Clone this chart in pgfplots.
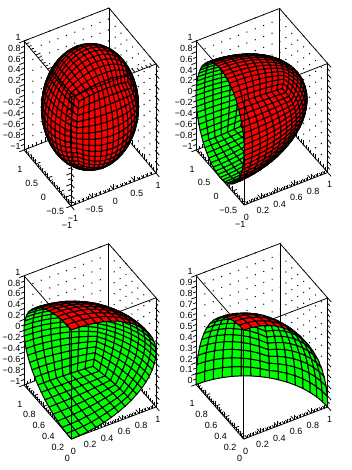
\documentclass[border=0pt]{standalone}
\usepackage{fontspec}
\setmainfont{Liberation Sans}
\usepackage{pgfplots}
\usepackage{pgfplotstable}
\pgfplotsset{compat=1.18}
\pgfplotstableread{
pa pb pc na nb nc
0 0 1 0 0 -1
0 .131 .991 0 -.131 -.991
0 .259 .966 0 -.259 -.966
0 .383 .924 0 -.383 -.924
0 .500 .866 0 -.500 -.866
0 .609 .793 0 -.609 -.793
0 .707 .707 0 -.707 -.707
.131 0 .991 -.131 0 -.991
.129 .129 .983 -.129 -.129 -.983
.126 .257 .958 -.126 -.257 -.958
.121 .380 .917 -.121 -.380 -.917
.113 .497 .860 -.113 -.497 -.860
.104 .605 .789 -.104 -.605 -.789
.093 .704 .704 -.093 -.704 -.704
.259 0 .966 -.259 0 -.966
.257 .126 .958 -.257 -.126 -.958
.251 .251 .935 -.251 -.251 -.935
.240 .371 .897 -.240 -.371 -.897
.226 .487 .844 -.226 -.487 -.844
.208 .595 .776 -.208 -.595 -.776
.186 .695 .695 -.186 -.695 -.695
.383 0 .924 -.383 0 -.924
.380 .121 .917 -.380 -.121 -.917
.371 .240 .897 -.371 -.240 -.897
.357 .357 .863 -.357 -.357 -.863
.338 .471 .815 -.338 -.471 -.815
.312 .578 .754 -.312 -.578 -.754
.281 .679 .679 -.281 -.679 -.679
.500 0 .866 -.500 0 -.866
.497 .113 .860 -.497 -.113 -.860
.487 .226 .844 -.487 -.226 -.844
.471 .338 .815 -.471 -.338 -.815
.447 .447 .775 -.447 -.447 -.775
.416 .553 .721 -.416 -.553 -.721
.378 .655 .655 -.378 -.655 -.655
.609 0 .793 -.609 0 -.793
.605 .104 .789 -.605 -.104 -.789
.595 .208 .776 -.595 -.208 -.776
.578 .312 .754 -.578 -.312 -.754
.553 .416 .721 -.553 -.416 -.721
.520 .520 .678 -.520 -.520 -.678
.477 .622 .622 -.477 -.622 -.622
.707 0 .707 -.707 0 -.707
.704 .093 .704 -.704 -.093 -.704
.695 .186 .695 -.695 -.186 -.695
.679 .281 .679 -.679 -.281 -.679
.655 .378 .655 -.655 -.378 -.655
.622 .477 .622 -.622 -.477 -.622
.577 .577 .577 -.577 -.577 -.577
}\capt
\pgfplotstableread{
pa pb pc na nb nc
0 0 1 0 0 -1
0 .098 .995 0 -.098 -.995
0 .195 .981 0 -.195 -.981
0 .290 .957 0 -.290 -.957
0 .383 .924 0 -.383 -.924
0 .471 .882 0 -.471 -.882
0 .556 .831 0 -.556 -.831
0 .634 .773 0 -.634 -.773
0 .707 .707 0 -.707 -.707
.098 0 .995 -.098 0 -.995
.098 .098 .990 -.098 -.098 -.990
.096 .194 .976 -.096 -.194 -.976
.094 .289 .953 -.094 -.289 -.953
.091 .381 .920 -.091 -.381 -.920
.087 .470 .879 -.087 -.470 -.879
.082 .554 .829 -.082 -.554 -.829
.076 .633 .771 -.076 -.633 -.771
.069 .705 .705 -.069 -.705 -.705
.195 0 .981 -.195 0 -.981
.194 .096 .976 -.194 -.096 -.976
.191 .191 .963 -.191 -.191 -.963
.187 .285 .940 -.187 -.285 -.940
.181 .376 .909 -.181 -.376 -.909
.173 .464 .869 -.173 -.464 -.869
.163 .548 .820 -.163 -.548 -.820
.152 .627 .764 -.152 -.627 -.764
.139 .700 .700 -.139 -.700 -.700
.290 0 .957 -.290 0 -.957
.289 .094 .953 -.289 -.094 -.953
.285 .187 .940 -.285 -.187 -.940
.279 .279 .919 -.279 -.279 -.919
.270 .368 .890 -.270 -.368 -.890
.258 .455 .852 -.258 -.455 -.852
.245 .539 .806 -.245 -.539 -.806
.228 .618 .753 -.228 -.618 -.753
.210 .691 .691 -.210 -.691 -.691
.383 0 .924 -.383 0 -.924
.381 .091 .920 -.381 -.091 -.920
.376 .181 .909 -.376 -.181 -.909
.368 .270 .890 -.368 -.270 -.890
.357 .357 .863 -.357 -.357 -.863
.343 .443 .828 -.343 -.443 -.828
.326 .525 .786 -.326 -.525 -.786
.305 .604 .736 -.305 -.604 -.736
.281 .679 .679 -.281 -.679 -.679
.471 0 .882 -.471 0 -.882
.470 .087 .879 -.470 -.087 -.879
.464 .173 .869 -.464 -.173 -.869
.455 .258 .852 -.455 -.258 -.852
.443 .343 .828 -.443 -.343 -.828
.426 .426 .798 -.426 -.426 -.798
.408 .506 .760 -.408 -.506 -.760
.382 .586 .714 -.382 -.586 -.714
.354 .661 .661 -.354 -.661 -.661
.556 0 .831 -.556 0 -.831
.554 .082 .829 -.554 -.082 -.829
.548 .163 .820 -.548 -.163 -.820
.539 .245 .806 -.539 -.245 -.806
.525 .326 .786 -.525 -.326 -.786
.506 .408 .760 -.506 -.408 -.760
.486 .486 .727 -.486 -.486 -.727
.459 .564 .687 -.459 -.564 -.687
.427 .639 .639 -.427 -.639 -.639
.634 0 .773 -.634 0 -.773
.633 .076 .771 -.633 -.076 -.771
.627 .152 .764 -.627 -.152 -.764
.618 .228 .753 -.618 -.228 -.753
.604 .305 .736 -.604 -.305 -.736
.586 .382 .714 -.586 -.382 -.714
.564 .459 .687 -.564 -.459 -.687
.536 .536 .653 -.536 -.536 -.653
.502 .612 .612 -.502 -.612 -.612
.707 0 .707 -.707 0 -.707
.705 .069 .705 -.705 -.069 -.705
.700 .139 .700 -.700 -.139 -.700
.691 .210 .691 -.691 -.210 -.691
.679 .281 .679 -.679 -.281 -.679
.661 .354 .661 -.661 -.354 -.661
.639 .427 .639 -.639 -.427 -.639
.612 .502 .612 -.612 -.502 -.612
.577 .577 .577 -.577 -.577 -.577
}\capf
\pgfplotsset{
 colormap={gg}{color=(green) color=(green)},
 colormap={rr}{color=(red) color=(red)},
 sph/.style={surf,shader=faceted,faceted color=black,line width=1pt,
   mesh/check=false,point meta=0,point meta min=-1,point meta max=1,
   unbounded coords=jump},
 gp/.style={sph,colormap name=gg},
 rp/.style={sph,colormap name=rr},
 rf/.style args={#1 #2 #3}{sph,colormap name=rr,
   restrict expr to domain={(#1)*x+(#2)*y+(#3)*z}{0:100}},
 edge/.style={black,line width=.75pt,no marks},
 panel/.style={anchor=origin,axis lines=box,clip=false,
   axis line style={line width=.75pt},tick style={black,line width=.75pt},
   tick align=inside,ztick align=outside,major tick length=5pt,minor tick length=3pt,
   xtick pos=lower,ytick pos=lower,ztick pos=left,
   zmajorgrids,xmajorgrids=false,ymajorgrids=false,
   major grid style={black,line width=1pt,dash pattern=on 1pt off 8pt},
   ticklabel style={font=\fontsize{9}{10}\selectfont,inner sep=0pt},
   xticklabel style={anchor=center,xshift=2pt,yshift=-12pt},
   yticklabel style={anchor=center,xshift=-4pt,yshift=-19pt},
   zticklabel style={anchor=east,xshift=0pt},
   },
}
\newcommand\capp[4]{\addplot3[#1,mesh/rows=7,mesh/cols=7] table[x=#2,y=#3,z=#4]{\capt};}
\newcommand\oct[4]{\capp{#1}{#2a}{#3b}{#4c}\capp{#1}{#2c}{#3a}{#4b}\capp{#1}{#2b}{#3c}{#4a}}
\newcommand\capq[4]{\addplot3[#1,mesh/rows=9,mesh/cols=9] table[x=#2,y=#3,z=#4]{\capf};}
\newcommand\ocf[4]{\capq{#1}{#2a}{#3b}{#4c}\capq{#1}{#2c}{#3a}{#4b}\capq{#1}{#2b}{#3c}{#4a}}
\begin{document}
\begin{tikzpicture}[x=1pt,y=1pt]
\path[use as bounding box] (0,0) rectangle (352,470);
% panel 1
\begin{axis}[panel,3d box=complete,at={(90pt,363pt)},x={(42.5pt,16.5pt)},y={(-23.5pt,28pt)},z={(0pt,54.5pt)},
 xmin=-1,xmax=1,ymin=-1,ymax=1,zmin=-1,zmax=1,
 xtick={-1,-.5,0,.5,1},xticklabels={−1,−0.5,0,0.5,1},minor x tick num=4,
 ytick={-1,-.5,0,.5,1},yticklabels={−1,−0.5,0,0.5,1},minor y tick num=4,
 ztick={-1,-.8,-.6,-.4,-.2,0,.2,.4,.6,.8,1},zticklabels={−1,−0.8,−0.6,−0.4,−0.2,0,0.2,0.4,0.6,0.8,1},minor z tick num=1]
\oct{rp}{p}{p}{p}\oct{rp}{n}{p}{p}\oct{rp}{p}{n}{p}\oct{rp}{n}{n}{p}
\oct{rp}{p}{p}{n}\oct{rp}{n}{p}{n}\oct{rp}{p}{n}{n}\oct{rp}{n}{n}{n}
\oct{rf=-1 -1.809 1.232}{p}{p}{p}\oct{rf=-1 -1.809 1.232}{n}{p}{p}\oct{rf=-1 -1.809 1.232}{p}{n}{p}\oct{rf=-1 -1.809 1.232}{n}{n}{p}
\oct{rf=-1 -1.809 1.232}{p}{p}{n}\oct{rf=-1 -1.809 1.232}{n}{p}{n}\oct{rf=-1 -1.809 1.232}{p}{n}{n}\oct{rf=-1 -1.809 1.232}{n}{n}{n}
\end{axis}
% panel 2
\begin{axis}[panel,at={(220.2pt,347pt)},x={(83.4pt,32.5pt)},y={(-24.1pt,27.5pt)},z={(0pt,54.5pt)},
 xmin=0,xmax=1,ymin=-1,ymax=1,zmin=-1,zmax=1,
 xtick={0,.2,.4,.6,.8,1},xticklabels={0,0.2,0.4,0.6,0.8,1},minor x tick num=4,
 ytick={-1,-.5,0,.5,1},yticklabels={−1,−0.5,0,0.5,1},minor y tick num=4,
 ztick={-1,-.8,-.6,-.4,-.2,0,.2,.4,.6,.8,1},zticklabels={−1,−0.8,−0.6,−0.4,−0.2,0,0.2,0.4,0.6,0.8,1},minor z tick num=1]
\addplot3[edge] coordinates {(1,-1,1) (0,-1,1) (0,1,1)};
\ocf{gp}{p}{p}{p}\ocf{gp}{p}{n}{p}\ocf{gp}{p}{p}{n}\ocf{gp}{p}{n}{n}
\ocf{rf=-1 -3.46 2.34}{p}{p}{p}\ocf{rf=-1 -3.46 2.34}{p}{n}{p}\ocf{rf=-1 -3.46 2.34}{p}{p}{n}\ocf{rf=-1 -3.46 2.34}{p}{n}{n}
\addplot3[edge] coordinates {(0,-1,-1) (0,-1,1)};
\end{axis}
% panel 3
\begin{axis}[panel,at={(71.3pt,85.6pt)},x={(84.7pt,32pt)},y={(-47.3pt,54pt)},z={(0pt,54.6pt)},
 xmin=0,xmax=1,ymin=0,ymax=1,zmin=-1,zmax=1,
 xtick={0,.2,.4,.6,.8,1},xticklabels={0,0.2,0.4,0.6,0.8,1},minor x tick num=4,
 ytick={0,.2,.4,.6,.8,1},yticklabels={0,0.2,0.4,0.6,0.8,1},minor y tick num=4,
 ztick={-1,-.8,-.6,-.4,-.2,0,.2,.4,.6,.8,1},zticklabels={−1,−0.8,−0.6,−0.4,−0.2,0,0.2,0.4,0.6,0.8,1},minor z tick num=1]
\addplot3[edge] coordinates {(1,0,1) (0,0,1) (0,1,1)};
\ocf{gp}{p}{p}{n}\ocf{gp}{p}{p}{p}
\ocf{rf=-1 -1.81 2.376}{p}{p}{p}\ocf{rf=-1 -1.81 2.376}{p}{p}{n}
\addplot3[edge] coordinates {(0,0,-1) (0,0,1)};
\end{axis}
% panel 4
\begin{axis}[panel,at={(243.7pt,31pt)},x={(84pt,32pt)},y={(-47.7pt,54.5pt)},z={(0pt,109pt)},
 xmin=0,xmax=1,ymin=0,ymax=1,zmin=0,zmax=1,
 xtick={0,.2,.4,.6,.8,1},xticklabels={0,0.2,0.4,0.6,0.8,1},minor x tick num=4,
 ytick={0,.2,.4,.6,.8,1},yticklabels={0,0.2,0.4,0.6,0.8,1},minor y tick num=4,
 ztick={0,.1,.2,.3,.4,.5,.6,.7,.8,.9,1},zticklabels={0,0.1,0.2,0.3,0.4,0.5,0.6,0.7,0.8,0.9,1},minor z tick num=1]
\addplot3[edge] coordinates {(1,0,1) (0,0,1) (0,1,1)};
\ocf{gp}{p}{p}{p}
\ocf{rf=-1 -1.761 1.174}{p}{p}{p}
\addplot3[edge] coordinates {(0,0,0) (0,0,1)};
\end{axis}
\end{tikzpicture}
\end{document}
